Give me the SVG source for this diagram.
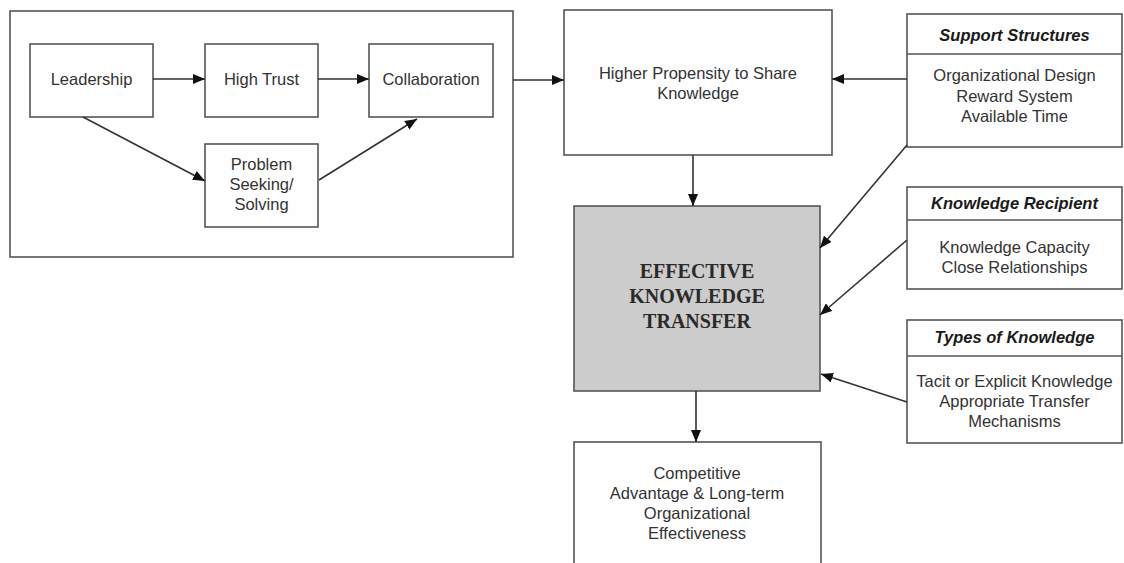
<svg xmlns="http://www.w3.org/2000/svg" width="1124" height="563" viewBox="0 0 1124 563">
  <defs>
    <marker id="arrow" viewBox="0 0 12 10" refX="12" refY="5" markerWidth="12" markerHeight="10" markerUnits="userSpaceOnUse" orient="auto">
      <path d="M0,0 L12,5 L0,10 Z" fill="#111"/>
    </marker>
  </defs>
  <style>
    .box { fill: #fefefe; stroke: #555; stroke-width: 1.6; }
    .core { fill: #cccccc; stroke: #555; stroke-width: 1.6; }
    .rule { stroke: #555; stroke-width: 1.6; }
    .lbl { font-family: "Liberation Sans", Arial, sans-serif; font-size: 16.5px; fill: #333; text-anchor: middle; }
    .head { font-family: "Liberation Sans", Arial, sans-serif; font-size: 16.5px; font-weight: bold; font-style: italic; fill: #1a1a1a; text-anchor: middle; }
    .big { font-family: "Liberation Serif", "Times New Roman", serif; font-size: 20px; font-weight: bold; fill: #2a2a2a; text-anchor: middle; }
    .conn line { stroke: #333; stroke-width: 1.6; marker-end: url(#arrow); }
  </style>
  <rect width="1124" height="563" fill="#ffffff"/>

  <!-- culture cluster -->
  <g id="culture">
    <rect class="box" x="10" y="11" width="503" height="246"/>
  </g>
  <g id="leadership">
    <rect class="box" x="30" y="44" width="123" height="73"/>
    <text class="lbl" x="91.5" y="85">Leadership</text>
  </g>
  <g id="high-trust">
    <rect class="box" x="205" y="44" width="113" height="73"/>
    <text class="lbl" x="261.5" y="85">High Trust</text>
  </g>
  <g id="collaboration">
    <rect class="box" x="369" y="44" width="124" height="73"/>
    <text class="lbl" x="431" y="85">Collaboration</text>
  </g>
  <g id="problem-solving">
    <rect class="box" x="205" y="144" width="113" height="83"/>
    <text class="lbl" x="261.5" y="170">Problem</text>
    <text class="lbl" x="261.5" y="190">Seeking/</text>
    <text class="lbl" x="261.5" y="210">Solving</text>
  </g>

  <g id="propensity">
    <rect class="box" x="564" y="10" width="268" height="145"/>
    <text class="lbl" x="698" y="79">Higher Propensity to Share</text>
    <text class="lbl" x="698" y="99">Knowledge</text>
  </g>

  <g id="transfer">
    <rect class="core" x="574" y="206" width="246" height="185"/>
    <text class="big" x="697" y="278">EFFECTIVE</text>
    <text class="big" x="697" y="303">KNOWLEDGE</text>
    <text class="big" x="697" y="328">TRANSFER</text>
  </g>

  <g id="outcome">
    <rect class="box" x="574" y="442" width="247" height="140"/>
    <text class="lbl" x="697" y="479">Competitive</text>
    <text class="lbl" x="697" y="499">Advantage &amp; Long-term</text>
    <text class="lbl" x="697" y="519">Organizational</text>
    <text class="lbl" x="697" y="539">Effectiveness</text>
  </g>

  <g id="support-structures">
    <rect class="box" x="907" y="14" width="215" height="133"/>
    <line class="rule" x1="907" y1="54" x2="1122" y2="54"/>
    <text class="head" x="1014.5" y="41">Support Structures</text>
    <text class="lbl" x="1014.5" y="81">Organizational Design</text>
    <text class="lbl" x="1014.5" y="102">Reward System</text>
    <text class="lbl" x="1014.5" y="122">Available Time</text>
  </g>

  <g id="knowledge-recipient">
    <rect class="box" x="907" y="187" width="215" height="102"/>
    <line class="rule" x1="907" y1="220" x2="1122" y2="220"/>
    <text class="head" x="1014.5" y="209">Knowledge Recipient</text>
    <text class="lbl" x="1014.5" y="253">Knowledge Capacity</text>
    <text class="lbl" x="1014.5" y="273">Close Relationships</text>
  </g>

  <g id="knowledge-types">
    <rect class="box" x="907" y="320" width="215" height="123"/>
    <line class="rule" x1="907" y1="356" x2="1122" y2="356"/>
    <text class="head" x="1014.5" y="343">Types of Knowledge</text>
    <text class="lbl" x="1014.5" y="387">Tacit or Explicit Knowledge</text>
    <text class="lbl" x="1014.5" y="407">Appropriate Transfer</text>
    <text class="lbl" x="1014.5" y="427">Mechanisms</text>
  </g>

  <g id="connectors" class="conn">
    <line x1="153" y1="79" x2="205" y2="79"/>
    <line x1="318" y1="79" x2="369" y2="79"/>
    <line x1="83" y1="117" x2="205" y2="181"/>
    <line x1="319" y1="180" x2="417" y2="119"/>
    <line x1="513" y1="80" x2="564" y2="80"/>
    <line x1="907" y1="79" x2="832" y2="79"/>
    <line x1="693" y1="155" x2="693" y2="206"/>
    <line x1="907" y1="145" x2="820" y2="248"/>
    <line x1="907" y1="240" x2="820" y2="315"/>
    <line x1="907" y1="402" x2="821" y2="374"/>
    <line x1="696" y1="391" x2="696" y2="442"/>
  </g>
</svg>
